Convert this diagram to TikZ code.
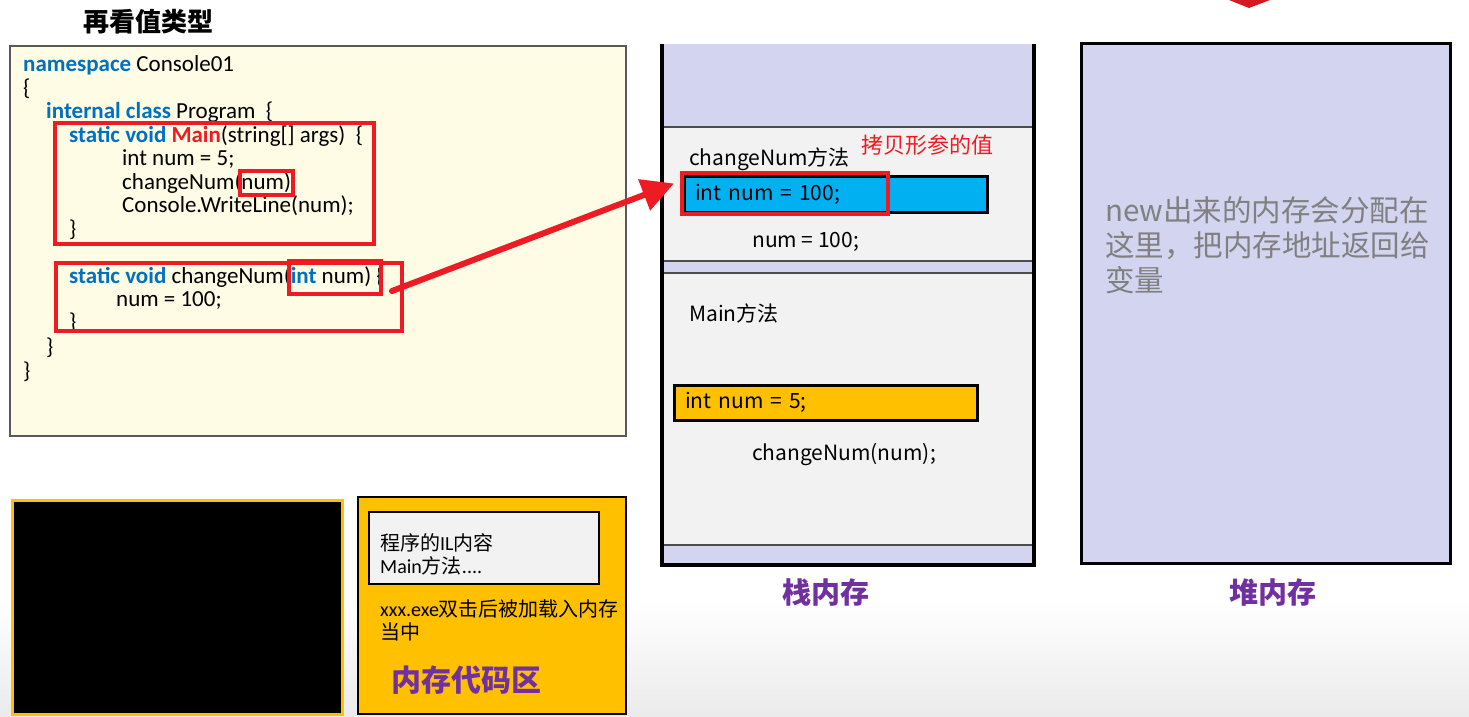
\documentclass[tikz,border=0pt]{standalone}
\usepackage{fontspec}
\usepackage{xcolor}
\setmainfont{Carlito}
\newfontfamily\cjk{Noto Sans CJK SC}
\usetikzlibrary{arrows.meta}

\definecolor{codebg}{RGB}{254,252,228}
\definecolor{kwblue}{RGB}{0,112,192}
\definecolor{hlred}{RGB}{237,28,36}
\definecolor{lavender}{RGB}{210,212,240}
\definecolor{framegray}{RGB}{242,242,242}
\definecolor{cellblue}{RGB}{0,176,240}
\definecolor{cellorange}{RGB}{255,192,0}
\definecolor{capurple}{RGB}{112,48,160}
\definecolor{notegray}{RGB}{128,128,128}

\newcommand{\kw}[1]{{\bfseries\color{kwblue}#1}}

\begin{document}
\begin{tikzpicture}[x=1pt, y=-1pt,
    codeline/.style={anchor=base west, inner sep=0pt, font=\fontsize{23}{24}\selectfont},
    stacktext/.style={anchor=base west, inner sep=0pt, font=\cjk\fontsize{21}{24}\selectfont},
    hlbox/.style={rectangle, draw=hlred, line width=4pt, inner sep=0pt},
    frame/.style={rectangle, draw=gray!60!black, line width=1.2pt, fill=framegray, inner sep=0pt},
    varbox/.style={rectangle, draw=black, line width=3pt, inner xsep=11pt, inner ysep=0pt, align=left, font=\cjk\fontsize{21}{24}\selectfont},
    caption/.style={inner sep=0pt, text=capurple, font=\cjk\bfseries\fontsize{29}{32}\selectfont}]

    \useasboundingbox (0,0) rectangle (1469,716);
    \shade[top color=white, bottom color=black!8] (0,600) rectangle (1469,716);
    \fill[hlred!90!black] (1229,0) -- (1270,0) -- (1249,8) -- cycle;

    % title and code
    \node[inner sep=0pt, font=\cjk\bfseries\fontsize{26}{28}\selectfont] (title) at (148,22) {再看值类型};
    \node[rectangle, draw=gray!70!black, line width=1.5pt, fill=codebg, minimum width=616pt, minimum height=390pt] (codebox) at (318,241) {};

    \node[codeline] (l1) at (23,71) {\kw{namespace} Console01};
    \node[codeline] (l2) at (23,95) {\{};
    \node[codeline] (l3) at (46,118) {\kw{internal class} Program~~\{};
    \node[codeline] (l4) at (69,142) {\kw{static void} {\bfseries\color{hlred}Main}(string[] args)~~\{};
    \node[codeline] (l5) at (122,165) {int num = 5;};
    \node[codeline] (l6) at (122,189) {changeNum(num);};
    \node[codeline] (l7) at (122,212) {Console.WriteLine(num);};
    \node[codeline] (l8) at (69,236) {\}};
    \node[codeline] (l9) at (69,283) {\kw{static void} changeNum(\kw{int} num) \{};
    \node[codeline] (l10) at (116,306) {num = 100;};
    \node[codeline] (l11) at (69,329) {\}};
    \node[codeline] (l12) at (46,354) {\}};
    \node[codeline] (l13) at (23,378) {\}};

    \node[hlbox, minimum width=319pt, minimum height=121pt] (mainbox) at (214.5,183.5) {};
    \node[hlbox, minimum width=346pt, minimum height=68pt] (chgbox) at (229,297) {};
    \node[hlbox, minimum width=53pt, minimum height=24pt] (argbox) at (266.5,183) {};
    \node[hlbox, minimum width=92pt, minimum height=33pt] (parambox) at (335,277.5) {};

    % stack
    \node[rectangle, fill=lavender, inner sep=0pt, minimum width=372pt, minimum height=521pt] (stack) at (848,304.5) {};
    \node[frame, minimum width=372pt, minimum height=134pt] (framechg) at (848,194) {};
    \node[frame, minimum width=372pt, minimum height=272pt] (framemain) at (848,409) {};
    \draw[line width=4pt] (stack.north west) -- (stack.south west) -- (stack.south east) -- (stack.north east);

    \node[stacktext] (chgname) at (689,165) {changeNum方法};
    \node[stacktext, text=hlred, font=\cjk\fontsize{22}{24}\selectfont] (copynote) at (861,153) {拷贝形参的值};
    \node[varbox, fill=cellblue, minimum width=303pt, minimum height=36pt, text width=281pt] (v100) at (835.5,194) {int num = 100;};
    \node[hlbox, minimum width=206pt, minimum height=41pt] (copybox) at (785,193.5) {};
    \node[stacktext] (assign) at (752,247) {num = 100;};
    \node[stacktext] (mainname) at (689,321) {Main方法};
    \node[varbox, fill=cellorange, minimum width=303pt, minimum height=35pt, text width=281pt] (v5) at (825.5,402.5) {int num = 5;};
    \node[stacktext] (call) at (752,460) {changeNum(num);};
    \node[caption] (stackcap) at (826,592) {栈内存};

    % heap
    \node[rectangle, draw=black, line width=3pt, fill=lavender, minimum width=369pt, minimum height=520pt] (heap) at (1265.5,303) {};
    \node[anchor=north west, inner sep=0pt, align=left, text=notegray, font=\cjk\fontsize{29.5}{35}\selectfont] (heapnote) at (1105,196) {new出来的内存会分配在\\这里，把内存地址返回给\\变量};
    \node[caption] (heapcap) at (1273,592) {堆内存};

    % console and code area
    \node[rectangle, draw=cellorange, line width=3pt, fill=black, minimum width=330pt, minimum height=214pt] (console) at (177,607) {};
    \node[rectangle, draw=black, line width=1.5pt, fill=cellorange, minimum width=268pt, minimum height=217pt] (codearea) at (492,605.5) {};
    \node[rectangle, draw=black, line width=1.5pt, fill=framegray, minimum width=230pt, minimum height=72pt] (ilbox) at (484,548) {};
    \node[anchor=north west, inner sep=0pt, align=left, font=\fontsize{20}{23}\selectfont] (iltext) at (380,533) {{\cjk 程序的}IL{\cjk 内容}\\Main{\cjk 方法}....};
    \node[anchor=north west, inner sep=0pt, align=left, font=\fontsize{20}{23}\selectfont] (loadtext) at (380,599) {xxx.exe{\cjk 双击后被加载入内存}\\{\cjk 当中}};
    \node[caption, font=\cjk\bfseries\fontsize{30}{32}\selectfont] (areacap) at (466,680) {内存代码区};

    \coordinate (tail) at (392,291);
    \draw[line width=6pt, hlred, line cap=round, -{Triangle[length=32pt,width=32pt]}] (tail) -- ([xshift=-6pt,yshift=10pt]copybox.west);
\end{tikzpicture}
\end{document}
